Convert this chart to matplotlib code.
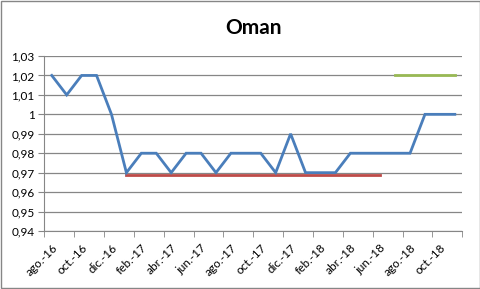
import matplotlib.pyplot as plt
from matplotlib.patches import Rectangle

# === Data ===
months = ['ago.-16', 'sep.-16', 'oct.-16', 'nov.-16', 'dic.-16', 'ene.-17',
          'feb.-17', 'mar.-17', 'abr.-17', 'may.-17', 'jun.-17', 'jul.-17',
          'ago.-17', 'sep.-17', 'oct.-17', 'nov.-17', 'dic.-17', 'ene.-18',
          'feb.-18', 'mar.-18', 'abr.-18', 'may.-18', 'jun.-18', 'jul.-18',
          'ago.-18', 'sep.-18', 'oct.-18', 'nov.-18']
price = [1.02, 1.01, 1.02, 1.02, 1.00, 0.97,
         0.98, 0.98, 0.97, 0.98, 0.98, 0.97,
         0.98, 0.98, 0.98, 0.97, 0.99, 0.97,
         0.97, 0.97, 0.98, 0.98, 0.98, 0.98,
         0.98, 1.00, 1.00, 1.00]
# reference levels: (first month index, last month index, value)
red_start, red_end, red_value = 5, 22, 0.969
green_start, green_end, green_value = 23, 27, 1.02
y_ticks = [0.94, 0.95, 0.96, 0.97, 0.98, 0.99, 1.00, 1.01, 1.02, 1.03]

plt.rcParams['font.family'] = ['Lato', 'DejaVu Sans']

fig = plt.figure(figsize=(4.81, 2.89), dpi=100)
ax = fig.add_axes([0.0921, 0.2007, 0.869, 0.6055])

x = list(range(len(months)))
ax.plot(x, price, color='#4A7EBB', linewidth=2.0, solid_joinstyle='miter', zorder=3)
ax.plot(range(red_start, red_end + 1), [red_value] * (red_end - red_start + 1),
        color='#BE4B48', linewidth=2.0, zorder=2)
ax.plot(range(green_start, green_end + 1), [green_value] * (green_end - green_start + 1),
        color='#98B954', linewidth=2.0, zorder=2)

ax.set_xlim(-0.5, len(months) - 0.5)
ax.set_ylim(0.94, 1.03)

ax.set_yticks(y_ticks)
ax.set_yticklabels([f"{v:g}".replace('.', ',') for v in y_ticks], fontsize=8.5)
ax.yaxis.grid(True, color='#868686', linewidth=0.9)
ax.set_axisbelow(True)

ax.set_xticks(x[::2])
ax.set_xticklabels(months[::2], rotation=45, ha='right', rotation_mode='anchor', fontsize=8.5)
ax.set_xticks([i - 0.5 for i in range(0, len(months) + 1, 2)], minor=True)
ax.tick_params(axis='x', which='major', length=0, pad=8)
ax.tick_params(axis='x', which='minor', length=4, color='#868686')
ax.tick_params(axis='y', length=4, color='#868686', pad=3)

for side in ['top', 'right']:
    ax.spines[side].set_visible(False)
for side in ['left', 'bottom']:
    ax.spines[side].set_color('#868686')

ax.set_title('Oman', fontsize=15, fontweight='bold', pad=16)

fig.patches.append(Rectangle((0.002, 0.003), 0.995, 0.994, transform=fig.transFigure,
                             fill=False, edgecolor='#868686', linewidth=1))

fig.savefig('out.png', dpi=100)
